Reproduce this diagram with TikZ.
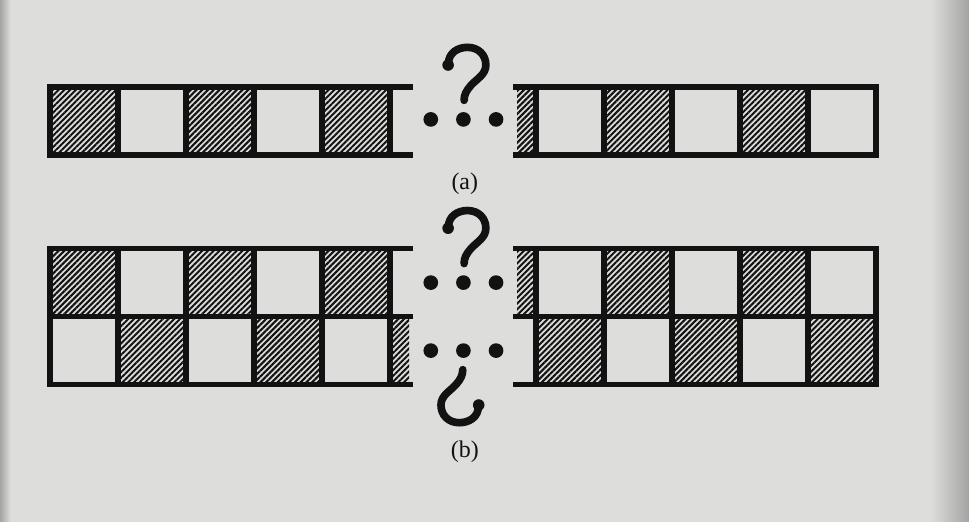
\documentclass[tikz,border=0pt]{standalone}
\usepackage{fontspec}
\setmainfont{Liberation Serif}
\usepackage{tikz}
\usetikzlibrary{patterns.meta}
\definecolor{Page}{HTML}{DDDDDB}
\definecolor{PageEdge}{HTML}{A4A4A2}
\definecolor{Ink}{HTML}{121212}
\begin{document}
\begin{tikzpicture}[x=1cm,y=1cm,
  wall/.style={Ink,line width=2.3pt,line join=miter},
  hatch/.style={pattern={Lines[angle=45,distance=1.7pt,line width=0.85pt]},pattern color=Ink},
  blot/.style={Ink},
  hook/.style={Ink,line width=3.2pt,line cap=round},
  lbl/.style={Ink,font=\normalsize,inner sep=0pt}]
  \fill[Page] (-0.735,0) rectangle (13.515,7.676);
  \shade[left color=Page,right color=PageEdge] (12.95,0) rectangle (13.515,7.676);
  \shade[left color=PageEdge,right color=Page] (-0.735,0) rectangle (-0.58,7.676);
  \useasboundingbox (-0.735,0) rectangle (13.515,7.676);
  \foreach \y in {5.4,3.02} {
    \foreach \a/\b in {0/1,2/3,4/5,6.87/7.15,8.15/9.15,10.15/11.15}
      \fill[hatch] (\a,\y) rectangle (\b,\y+1);
  }
  \foreach \a/\b in {1/2,3/4,5/5.28,7.15/8.15,9.15/10.15,11.15/12.15}
    \fill[hatch] (\a,2.02) rectangle (\b,3.02);
  \foreach \lo/\hi in {5.4/6.4,2.02/4.02} {
    \draw[wall] (5.34,\hi) -- (0,\hi) -- (0,\lo) -- (5.34,\lo);
    \draw[wall] (6.81,\hi) -- (12.15,\hi) -- (12.15,\lo) -- (6.81,\lo);
    \foreach \x in {1,...,5}
      \draw[wall] (\x,\lo) -- (\x,\hi);
    \foreach \x in {7.15,8.15,9.15,10.15,11.15}
      \draw[wall] (\x,\lo) -- (\x,\hi);
  }
  \draw[wall] (0,3.02) -- (5.34,3.02);
  \draw[wall] (6.81,3.02) -- (12.15,3.02);
  \foreach \y in {5.92,3.52,2.52} {
    \foreach \x in {5.6,6.08,6.56}
      \fill[blot] (\x,\y) circle (0.108);
  }
  \foreach \y/\r in {5.92/0,3.52/0,2.52/180} {
    \draw[hook,shift={(6.08,\y)},rotate=\r] (-0.22,0.82)
      .. controls (-0.22,0.98) and (-0.08,1.06) .. (0.06,1.06)
      .. controls (0.22,1.06) and (0.33,0.95) .. (0.33,0.8)
      .. controls (0.33,0.66) and (0.2,0.6) .. (0.11,0.5)
      .. controls (0.04,0.42) and (0.01,0.36) .. (0.01,0.28);
    \fill[blot,shift={(6.08,\y)},rotate=\r] (-0.225,0.8) circle (0.085);
  }
  \node[lbl] (capa) at (6.1,4.97) {(a)};
  \node[lbl] (capb) at (6.1,1.03) {(b)};
\end{tikzpicture}
\end{document}
